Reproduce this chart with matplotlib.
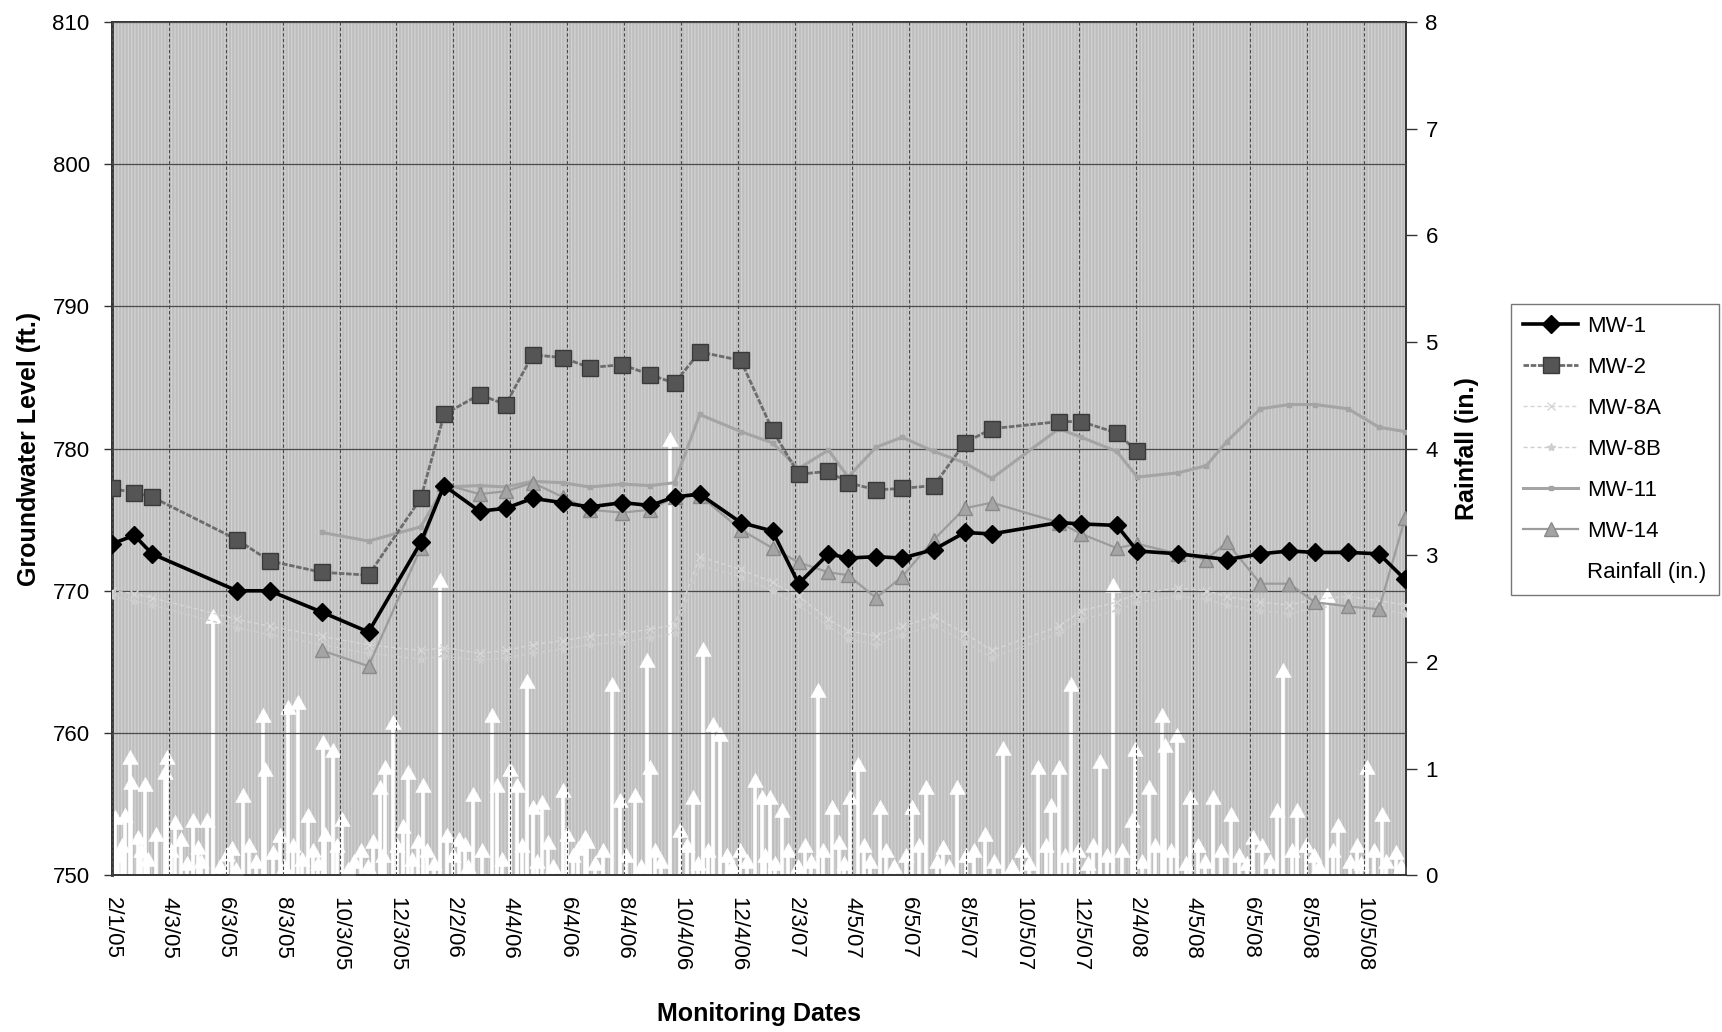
import matplotlib
matplotlib.use("Agg")
import matplotlib.pyplot as plt
from matplotlib.patches import Rectangle
from matplotlib.path import Path
from matplotlib.lines import Line2D
import pandas as pd

plt.rcParams['font.family'] = ['Liberation Sans', 'DejaVu Sans']
plt.rcParams['hatch.linewidth'] = 0.8

# monitoring events (groundwater levels in ft.)
sample_dates = ["2005-02-01", "2005-02-25", "2005-03-16", "2005-06-15", "2005-07-20", "2005-09-14",
                "2005-11-03", "2005-12-29", "2006-01-23", "2006-03-02", "2006-03-30", "2006-04-28",
                "2006-05-30", "2006-06-28", "2006-08-02", "2006-09-01", "2006-09-27", "2006-10-24",
                "2006-12-07", "2007-01-10", "2007-02-07", "2007-03-11", "2007-04-01", "2007-05-01",
                "2007-05-29", "2007-07-02", "2007-08-04", "2007-09-02", "2007-11-13", "2007-12-07",
                "2008-01-14", "2008-02-05", "2008-03-20", "2008-04-19", "2008-05-11", "2008-06-16",
                "2008-07-17", "2008-08-13", "2008-09-18", "2008-10-21", "2008-11-18"]
N = None
mw1 = [773.3, 773.9, 772.6, 770.0, 770.0, 768.5, 767.1, 773.4, 777.4, 775.6, 775.8, 776.5,
       776.2, 775.9, 776.2, 776.0, 776.6, 776.8, 774.8, 774.2, 770.5, 772.6, 772.3, 772.4,
       772.3, 772.9, 774.1, 774.0, 774.8, 774.7, 774.6, 772.8, 772.6, N, 772.2, 772.6,
       772.8, 772.7, 772.7, 772.6, 770.8]
mw2 = [777.2, 776.9, 776.6, 773.6, 772.1, 771.3, 771.1, 776.5, 782.4, 783.8, 783.1, 786.6,
       786.4, 785.7, 785.9, 785.2, 784.6, 786.8, 786.2, 781.3, 778.2, 778.4, 777.6, 777.1,
       777.2, 777.4, 780.4, 781.4, 781.9, 781.9, 781.1, 779.8, N, N, N, N,
       N, N, N, N, N]
mw8a = [770.0, 769.8, 769.5, 768.0, 767.5, 766.8, 766.2, 765.8, 766.0, 765.6, 765.8, 766.2,
        766.5, 766.8, 767.0, 767.3, 767.6, 772.4, 771.5, 770.6, 769.6, 768.0, 767.2, 766.8,
        767.5, 768.2, 767.0, 765.8, 767.5, 768.6, 769.2, 769.8, 770.2, 770.0, 769.6, 769.2,
        769.0, 769.4, 769.6, 769.3, 769.0]
mw8b = [769.6, 769.3, 769.0, 767.4, 766.9, 766.2, 765.6, 765.2, 765.4, 765.1, 765.3, 765.6,
        765.9, 766.2, 766.4, 766.7, 767.0, 771.8, 771.0, 770.0, 769.0, 767.5, 766.6, 766.2,
        766.9, 767.6, 766.4, 765.3, 767.0, 768.0, 768.6, 769.2, 769.6, 769.4, 769.0, 768.6,
        768.4, 768.8, 769.0, 768.7, 768.4]
mw11 = [N, N, N, N, N, 774.1, 773.5, 774.5, 777.3, 777.4, 777.3, 777.7,
        777.6, 777.3, 777.5, 777.4, 777.6, 782.4, 781.2, 780.4, 778.6, 779.9, 778.0, 780.1,
        780.8, 779.8, 779.0, 777.9, 781.4, 780.8, 779.8, 778.0, 778.3, 778.8, 780.5, 782.8,
        783.1, 783.1, 782.8, 781.5, 781.2]
mw14 = [N, N, N, N, N, 765.8, 764.7, 773.0, 777.5, 776.8, 777.0, 777.6,
        776.6, 775.7, 775.5, 775.7, 776.6, 776.7, 774.3, 773.0, 772.0, 771.3, 771.1, 769.5,
        771.0, 773.6, 775.8, 776.2, 774.8, 774.0, 773.0, 773.3, 772.6, 772.2, 773.4, 770.5,
        770.5, 769.2, 768.9, 768.7, 775.1]

# rainfall events (in.)
rain_2005 = [("2005-02-04", 0.61), ("2005-02-08", 0.25), ("2005-02-12", 0.35), ("2005-02-15", 0.63),
             ("2005-02-20", 1.17), ("2005-02-21", 0.94), ("2005-03-01", 0.42), ("2005-03-04", 0.30),
             ("2005-03-08", 0.92), ("2005-03-12", 0.22), ("2005-03-20", 0.45), ("2005-03-30", 1.03),
             ("2005-04-01", 1.17), ("2005-04-05", 0.30), ("2005-04-10", 0.56), ("2005-04-16", 0.40),
             ("2005-04-22", 0.18), ("2005-04-29", 0.58), ("2005-05-04", 0.33), ("2005-05-08", 0.20),
             ("2005-05-14", 0.58), ("2005-05-20", 2.50), ("2005-05-28", 0.15), ("2005-06-04", 0.26),
             ("2005-06-10", 0.32), ("2005-06-14", 0.12), ("2005-06-21", 0.82), ("2005-06-28", 0.35),
             ("2005-07-05", 0.20), ("2005-07-13", 1.57), ("2005-07-15", 1.06), ("2005-07-24", 0.28),
             ("2005-07-31", 0.44), ("2005-08-04", 0.15), ("2005-08-09", 1.64), ("2005-08-14", 0.35),
             ("2005-08-19", 1.69), ("2005-08-24", 0.22), ("2005-08-30", 0.63), ("2005-09-05", 0.30),
             ("2005-09-10", 0.18), ("2005-09-15", 1.31), ("2005-09-17", 0.45), ("2005-09-26", 1.24),
             ("2005-09-30", 0.35), ("2005-10-06", 0.59), ("2005-10-12", 0.12), ("2005-10-18", 0.20),
             ("2005-10-26", 0.30), ("2005-11-02", 0.15), ("2005-11-08", 0.39), ("2005-11-15", 0.89),
             ("2005-11-18", 0.25), ("2005-11-21", 1.08), ("2005-11-29", 1.50), ("2005-12-04", 0.35),
             ("2005-12-10", 0.53), ("2005-12-15", 1.03), ("2005-12-20", 0.22), ("2005-12-26", 0.39),
             ("2005-12-31", 0.91)]
rain_2006 = [("2006-01-05", 0.30), ("2006-01-12", 0.18), ("2006-01-19", 2.83), ("2006-01-26", 0.44),
             ("2006-02-02", 0.25), ("2006-02-08", 0.40), ("2006-02-14", 0.36), ("2006-02-18", 0.15),
             ("2006-02-23", 0.83), ("2006-03-05", 0.30), ("2006-03-15", 1.57), ("2006-03-21", 0.91),
             ("2006-03-26", 0.22), ("2006-04-04", 1.06), ("2006-04-11", 0.91), ("2006-04-16", 0.35),
             ("2006-04-22", 1.89), ("2006-04-28", 0.70), ("2006-05-03", 0.20), ("2006-05-08", 0.75),
             ("2006-05-14", 0.38), ("2006-05-20", 0.15), ("2006-05-30", 0.86), ("2006-06-04", 0.45),
             ("2006-06-10", 0.25), ("2006-06-16", 0.32), ("2006-06-23", 0.42), ("2006-06-25", 0.39),
             ("2006-07-04", 0.18), ("2006-07-12", 0.30), ("2006-07-22", 1.86), ("2006-07-31", 0.77),
             ("2006-08-06", 0.25), ("2006-08-16", 0.82), ("2006-08-22", 0.15), ("2006-08-29", 2.08),
             ("2006-09-01", 1.08), ("2006-09-06", 0.30), ("2006-09-12", 0.20), ("2006-09-22", 4.16),
             ("2006-10-03", 0.49), ("2006-10-10", 0.35), ("2006-10-17", 0.80), ("2006-10-22", 0.18),
             ("2006-10-28", 2.19), ("2006-11-02", 0.30), ("2006-11-07", 1.48), ("2006-11-15", 1.39),
             ("2006-11-22", 0.25), ("2006-11-28", 0.15), ("2006-12-06", 0.30), ("2006-12-14", 0.20),
             ("2006-12-22", 0.96), ("2006-12-30", 0.80)]
rain_2007 = [("2007-01-02", 0.25), ("2007-01-07", 0.80), ("2007-01-13", 0.18), ("2007-01-20", 0.68),
             ("2007-01-27", 0.30), ("2007-02-06", 0.15), ("2007-02-14", 0.35), ("2007-02-20", 0.20),
             ("2007-02-28", 1.80), ("2007-03-05", 0.30), ("2007-03-15", 0.70), ("2007-03-22", 0.38),
             ("2007-03-28", 0.18), ("2007-04-03", 0.80), ("2007-04-12", 1.11), ("2007-04-18", 0.35),
             ("2007-04-24", 0.20), ("2007-05-05", 0.70), ("2007-05-12", 0.30), ("2007-05-20", 0.15),
             ("2007-06-02", 0.25), ("2007-06-09", 0.70), ("2007-06-16", 0.35), ("2007-06-23", 0.89),
             ("2007-07-05", 0.20), ("2007-07-12", 0.33), ("2007-07-18", 0.15), ("2007-07-27", 0.89),
             ("2007-08-05", 0.25), ("2007-08-14", 0.30), ("2007-08-26", 0.45), ("2007-09-04", 0.20),
             ("2007-09-14", 1.26), ("2007-09-24", 0.15), ("2007-10-04", 0.30), ("2007-10-12", 0.18),
             ("2007-10-22", 1.08), ("2007-10-30", 0.35), ("2007-11-04", 0.72), ("2007-11-13", 1.08),
             ("2007-11-20", 0.25), ("2007-11-26", 1.86), ("2007-12-03", 0.30), ("2007-12-14", 0.18),
             ("2007-12-20", 0.35), ("2007-12-27", 1.14)]
rain_2008 = [("2008-01-03", 0.25), ("2008-01-10", 2.79), ("2008-01-20", 0.30), ("2008-01-30", 0.58),
             ("2008-02-03", 1.25), ("2008-02-10", 0.20), ("2008-02-17", 0.89), ("2008-02-24", 0.35),
             ("2008-03-03", 1.57), ("2008-03-06", 1.29), ("2008-03-12", 0.30), ("2008-03-19", 1.38),
             ("2008-03-28", 0.18), ("2008-04-02", 0.80), ("2008-04-10", 0.35), ("2008-04-18", 0.20),
             ("2008-04-26", 0.80), ("2008-05-05", 0.30), ("2008-05-15", 0.64), ("2008-05-24", 0.25),
             ("2008-06-02", 0.18), ("2008-06-08", 0.42), ("2008-06-18", 0.35), ("2008-06-26", 0.20),
             ("2008-07-04", 0.68), ("2008-07-10", 1.99), ("2008-07-20", 0.30), ("2008-07-25", 0.68),
             ("2008-08-04", 0.35), ("2008-08-12", 0.25), ("2008-08-18", 0.15), ("2008-08-26", 2.69),
             ("2008-09-02", 0.30), ("2008-09-07", 0.54), ("2008-09-20", 0.20), ("2008-09-27", 0.35),
             ("2008-10-02", 0.18), ("2008-10-08", 1.08), ("2008-10-16", 0.30), ("2008-10-24", 0.64),
             ("2008-10-29", 0.20), ("2008-11-08", 0.28), ("2008-11-14", 0.15)]

tick_labels = ["2/1/05", "4/3/05", "6/3/05", "8/3/05", "10/3/05", "12/3/05", "2/2/06", "4/4/06",
               "6/4/06", "8/4/06", "10/4/06", "12/4/06", "2/3/07", "4/5/07", "6/5/07", "8/5/07",
               "10/5/07", "12/5/07", "2/4/08", "4/5/08", "6/5/08", "8/5/08", "10/5/08"]

levels = pd.DataFrame({"MW-1": mw1, "MW-2": mw2, "MW-8A": mw8a, "MW-8B": mw8b,
                       "MW-11": mw11, "MW-14": mw14},
                      index=pd.to_datetime(sample_dates), dtype=float)
rain = pd.DataFrame(rain_2005 + rain_2006 + rain_2007 + rain_2008, columns=["date", "inches"])
rain["date"] = pd.to_datetime(rain["date"])
tick_dates = pd.to_datetime(tick_labels, format="%m/%d/%y")
x_start = tick_dates[0]
x_end = x_start + pd.Timedelta(days=1387)

fig = plt.figure(figsize=(17.22, 10.32), dpi=100)
ax = fig.add_axes([0.065, 0.152, 0.7515, 0.8266])
ax2 = ax.twinx()
ax.set_zorder(ax2.get_zorder() + 1)
ax.patch.set_visible(False)

# grey striped plot area
ax2.add_patch(Rectangle((0, 0), 1, 1, transform=ax2.transAxes, facecolor="#bebebe",
                        edgecolor="#d4d4d4", hatch="|||||", lw=0, zorder=0))

# rainfall as white arrows on the right axis
head = Path([(0, 0), (-0.55, -1), (0.55, -1), (0, 0)],
            [Path.MOVETO, Path.LINETO, Path.LINETO, Path.CLOSEPOLY])
ax2.vlines(rain["date"], 0, rain["inches"] - 0.06, color="white", lw=2.6, zorder=2)
ax2.plot(rain["date"], rain["inches"], ls="none", marker=head, ms=20, color="white",
         mec="white", mew=0.5, zorder=3)
ax2.set_ylim(0, 8)
ax2.set_yticks(range(0, 9))

styles = {
    "MW-8A": dict(color="#d6d6d6", lw=1.0, ls=(0, (3, 2)), marker="x", ms=6),
    "MW-8B": dict(color="#cecece", lw=1.0, ls=(0, (3, 2)), marker="*", ms=6),
    "MW-11": dict(color="#a4a4a4", lw=2.2, marker="s", ms=3.5),
    "MW-14": dict(color="#9c9c9c", lw=1.6, marker="^", ms=10, mfc="#a4a4a4", mec="#8a8a8a"),
    "MW-2": dict(color="#6c6c6c", lw=2.0, ls=(0, (2, 0.6)), marker="s", ms=11,
                 mfc="#555555", mec="#3a3a3a"),
    "MW-1": dict(color="black", lw=2.6, marker="D", ms=9),
}
handles = {}
for name in ["MW-8A", "MW-8B", "MW-11", "MW-14", "MW-2", "MW-1"]:
    s = levels[name].dropna()
    handles[name], = ax.plot(s.index, s.values, label=name, zorder=4, **styles[name])
rain_handle = Line2D([], [], color="white", lw=2.4, label="Rainfall (in.)")

ax.set_xlim(x_start, x_end)
ax.set_ylim(750, 810)
ax.set_yticks(range(750, 811, 10))
ax.set_xticks(tick_dates)
ax.set_xticklabels(tick_labels, rotation=270, ha="center", va="top", fontsize=16)
ax.tick_params(axis="x", length=0, pad=16)
ax.tick_params(axis="y", labelsize=16, length=6, width=1, color="#333333", pad=10)
ax2.tick_params(axis="y", labelsize=16, length=8, width=1, color="#333333", pad=6)

ax.grid(axis="y", color="#4a4a4a", lw=0.9, ls="-")
ax.grid(axis="x", color="#4a4a4a", lw=0.8, ls=(0, (3, 2)))
ax.set_axisbelow(False)

for a in (ax, ax2):
    for side, sp in a.spines.items():
        sp.set_color("#333333")
        sp.set_linewidth(1.2)
ax.spines["left"].set_linewidth(2.0)

ax.set_ylabel("Groundwater Level (ft.)", fontsize=18, fontweight="bold", labelpad=8)
ax2.set_ylabel("Rainfall (in.)", fontsize=18, fontweight="bold", labelpad=12)
ax.set_xlabel("Monitoring Dates", fontsize=18, fontweight="bold", labelpad=22)

order = ["MW-1", "MW-2", "MW-8A", "MW-8B", "MW-11", "MW-14"]
leg = fig.legend([handles[n] for n in order] + [rain_handle], order + ["Rainfall (in.)"],
                 loc="upper left", bbox_to_anchor=(0.8773, 0.7054), fontsize=16,
                 frameon=True, fancybox=False, edgecolor="#555555", labelspacing=0.9,
                 handlelength=2.5, borderpad=0.55, handletextpad=0.4, borderaxespad=0)
leg.get_frame().set_linewidth(1.0)

fig.savefig("out.png", dpi=100)
